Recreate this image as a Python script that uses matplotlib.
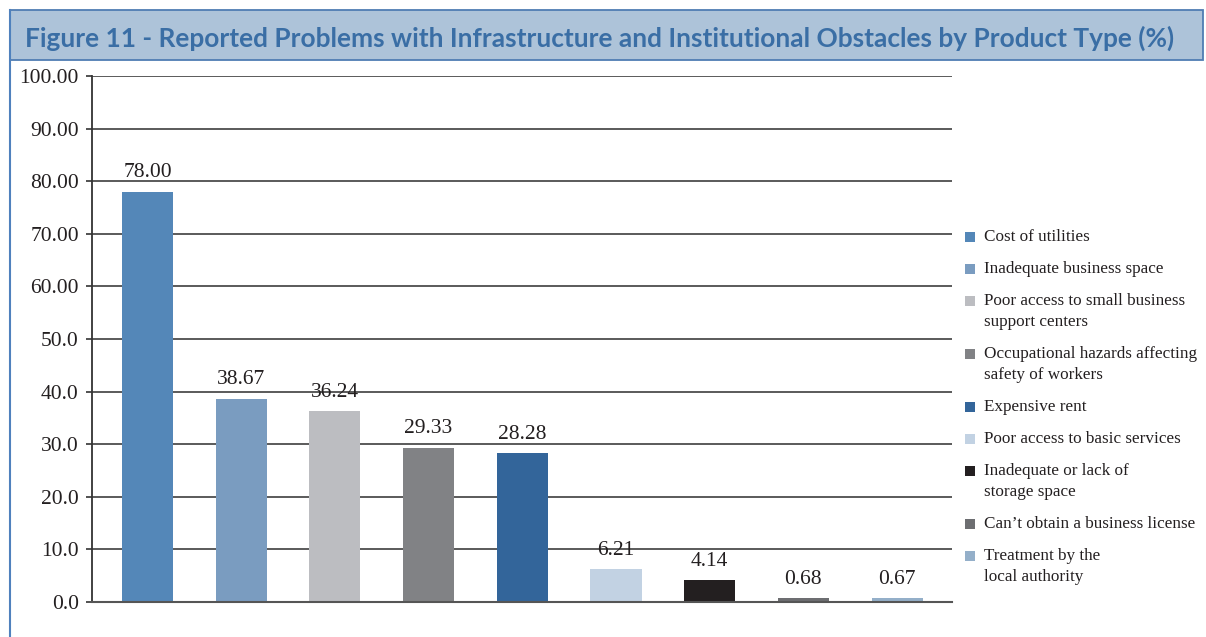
import matplotlib.pyplot as plt
from matplotlib.patches import Rectangle
from matplotlib.lines import Line2D

# data
categories = ['Cost of utilities', 'Inadequate business space',
              'Poor access to small business\nsupport centers',
              'Occupational hazards affecting\nsafety of workers',
              'Expensive rent', 'Poor access to basic services',
              'Inadequate or lack of\nstorage space',
              'Can\u2019t obtain a business license',
              'Treatment by the\nlocal authority']
values = [78.00, 38.67, 36.24, 29.33, 28.28, 6.21, 4.14, 0.68, 0.67]
value_labels = ['78.00', '38.67', '36.24', '29.33', '28.28', '6.21', '4.14', '0.68', '0.67']
colors = ['#5487b8', '#7a9cc0', '#bcbdc1', '#818285', '#33659a',
          '#c2d2e3', '#231f20', '#6d6e71', '#94afc9']
yticks = [0, 10, 20, 30, 40, 50, 60, 70, 80, 90, 100]
ytick_labels = ['0.0', '10.0', '20.0', '30.0', '40.0', '50.0',
                '60.00', '70.00', '80.00', '90.00', '100.00']
title = 'Figure 11 - Reported Problems with Infrastructure and Institutional Obstacles by Product Type (%)'

W, H = 1206, 637
serif = 'Liberation Serif'
txt_color = '#231f20'

fig = plt.figure(figsize=(W / 100, H / 100), dpi=100)

def fx(x):
    return x / W

def fy(y):
    return 1 - y / H

# frame + title bar
fig.add_artist(Line2D([fx(10), fx(10)], [fy(10), fy(637)], color='#4f81bd', lw=1.5))
fig.add_artist(Rectangle((fx(10), fy(60)), fx(1193), 50 / H, facecolor='#adc3d9',
                         edgecolor='#4f7db3', lw=1.3))
fig.text(fx(25), fy(38), title, fontsize=18.9, fontweight='bold', family='Lato',
         color='#3a6ea5', va='center', ha='left')

ax = fig.add_axes([fx(92), fy(602), fx(860), 526 / H])
x = list(range(len(values)))
ax.bar(x, values, width=0.545, color=colors, zorder=2)
for xi, v, lab in zip(x, values, value_labels):
    ax.annotate(lab, (xi, v), xytext=(0, 7), textcoords='offset points',
                ha='center', va='bottom', fontsize=15.5, family=serif, color=txt_color)

ax.set_xlim(-0.592, 8.586)
ax.set_ylim(0, 100)
ax.set_yticks(yticks)
ax.set_yticklabels(ytick_labels, family=serif, fontsize=15.5, color=txt_color)
ax.set_xticks([])
ax.tick_params(axis='y', length=4.5, width=1.2, color='#333333', pad=5)
ax.yaxis.grid(True, color='#4d4d4d', lw=1.3)
ax.set_axisbelow(True)
for s in ['top', 'right']:
    ax.spines[s].set_visible(False)
ax.spines['left'].set_color('#333333')
ax.spines['bottom'].set_color('#555555')
ax.spines['left'].set_linewidth(1.3)
ax.spines['bottom'].set_linewidth(1.5)

# legend drawn by hand to match spacing
y = 237
for lab, c in zip(categories, colors):
    fig.add_artist(Rectangle((fx(965), fy(y + 5)), 10 / W, 10 / H,
                             facecolor=c, edgecolor='none'))
    for line in lab.split('\n'):
        fig.text(fx(984), fy(y), line, family=serif, fontsize=12.3,
                 color=txt_color, va='center', ha='left')
        y += 21
    y += 11

fig.savefig('out.png', dpi=100)
